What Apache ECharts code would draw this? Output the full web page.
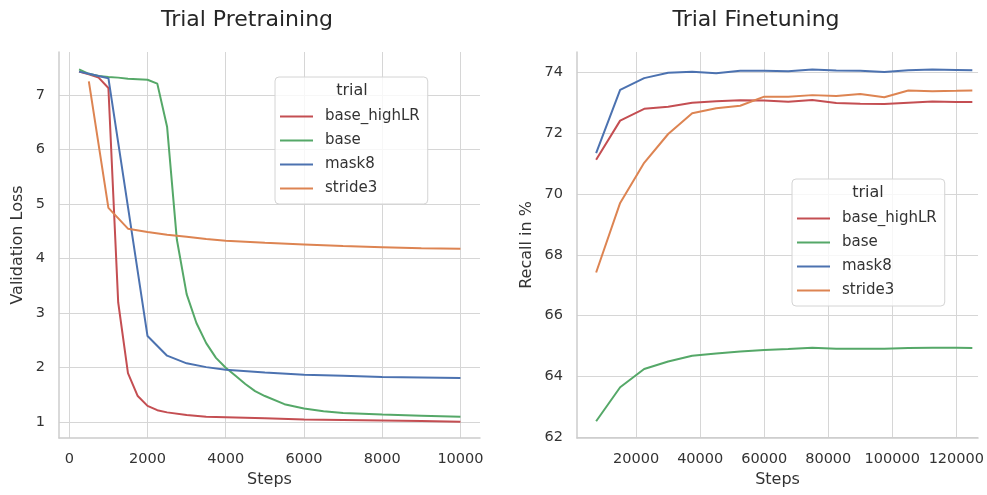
<!DOCTYPE html>
<html>
<head>
<meta charset="utf-8">
<script src="https://cdn.jsdelivr.net/npm/echarts@6/dist/echarts.min.js"></script>
<style>
  html, body { margin: 0; padding: 0; background: #fff; }
  #chart { width: 987px; height: 495px; }
</style>
</head>
<body>
<div id="chart"></div>
<script>
const trialNames = ['base_highLR', 'base', 'mask8', 'stride3'];
const trialColors = ['#c44e52', '#55a868', '#4c72b0', '#dd8452'];

// pretraining: validation loss vs steps
const preHighLRSteps = [250, 500, 750, 1000, 1250, 1500, 1750, 2000, 2250, 2500, 3000, 3500, 4000, 4500, 5000, 6000, 7000, 8000, 9000, 10000];
const preHighLRLoss = [7.43, 7.38, 7.32, 7.13, 3.2, 1.9, 1.48, 1.3, 1.22, 1.18, 1.13, 1.1, 1.09, 1.08, 1.07, 1.05, 1.04, 1.03, 1.02, 1.01];
const preBaseSteps = [250, 500, 750, 1000, 1250, 1500, 1750, 2000, 2250, 2500, 2750, 3000, 3250, 3500, 3750, 4000, 4250, 4500, 4750, 5000, 5500, 6000, 6500, 7000, 8000, 9000, 10000];
const preBaseLoss = [7.47, 7.39, 7.35, 7.33, 7.32, 7.3, 7.29, 7.28, 7.21, 6.42, 4.35, 3.35, 2.82, 2.45, 2.18, 2.0, 1.85, 1.7, 1.57, 1.48, 1.33, 1.25, 1.2, 1.17, 1.14, 1.12, 1.1];
const preMask8Steps = [250, 500, 750, 1000, 1500, 2000, 2500, 3000, 3500, 4000, 5000, 6000, 7000, 8000, 9000, 10000];
const preMask8Loss = [7.43, 7.39, 7.35, 7.31, 4.95, 2.58, 2.22, 2.08, 2.01, 1.96, 1.91, 1.87, 1.85, 1.83, 1.82, 1.81];
const preStride3Steps = [500, 1000, 1500, 2000, 2500, 3000, 3500, 4000, 5000, 6000, 7000, 8000, 9000, 10000];
const preStride3Loss = [7.25, 4.93, 4.55, 4.49, 4.44, 4.4, 4.36, 4.33, 4.29, 4.26, 4.23, 4.21, 4.19, 4.18];

// finetuning: recall vs steps
const fineSteps = [7500, 15000, 22500, 30000, 37500, 45000, 52500, 60000, 67500, 75000, 82500, 90000, 97500, 105000, 112500, 120000, 125000];
const fineHighLR = [71.13, 72.42, 72.81, 72.88, 73.01, 73.06, 73.09, 73.08, 73.04, 73.1, 73.0, 72.98, 72.97, 73.01, 73.05, 73.03, 73.03];
const fineBase = [62.52, 63.64, 64.24, 64.49, 64.68, 64.75, 64.82, 64.87, 64.9, 64.94, 64.91, 64.91, 64.91, 64.93, 64.94, 64.94, 64.93];
const fineMask8 = [71.35, 73.43, 73.82, 74.0, 74.03, 73.98, 74.06, 74.06, 74.05, 74.1, 74.07, 74.06, 74.02, 74.08, 74.1, 74.09, 74.08];
const fineStride3 = [67.42, 69.71, 71.03, 71.98, 72.66, 72.83, 72.91, 73.21, 73.21, 73.26, 73.23, 73.3, 73.19, 73.41, 73.39, 73.4, 73.41];

// tick labels
const preXTicks = [0, 2000, 4000, 6000, 8000, 10000];
const preYTicks = [1, 2, 3, 4, 5, 6, 7];
const fineXTicks = [20000, 40000, 60000, 80000, 100000, 120000];
const fineYTicks = [62, 64, 66, 68, 70, 72, 74];

const FONT = 'DejaVu Sans';
const gridColor = '#d6d6d6';
const spineColor = '#cccccc';
const textColor = '#333333';

function zip(xs, ys) {
  return xs.map((x, i) => [x, ys[i]]);
}

function makeAxis(opt) {
  return Object.assign({
    type: 'value',
    nameLocation: 'middle',
    nameTextStyle: { fontFamily: FONT, fontSize: 16, color: textColor },
    axisLine: { show: true, onZero: false, lineStyle: { color: spineColor, width: 1.5 } },
    axisTick: { show: false, customValues: opt.ticks },
    axisLabel: {
      customValues: opt.ticks,
      formatter: (v) => String(v),
      fontFamily: FONT, fontSize: 14.5, color: textColor, margin: 14
    },
    splitLine: { show: true, lineStyle: { color: gridColor, width: 1 } }
  }, opt.extra);
}

function lineSeries(name, color, data, axisIdx) {
  return {
    name: name,
    type: 'line',
    xAxisIndex: axisIdx,
    yAxisIndex: axisIdx,
    data: data,
    showSymbol: false,
    color: color,
    lineStyle: { width: 2, color: color },
    animation: false
  };
}

function legendAt(left, top) {
  return {
    data: trialNames,
    orient: 'vertical',
    left: left,
    top: top,
    icon: 'rect',
    itemWidth: 33,
    itemHeight: 2,
    itemGap: 9,
    padding: [32, 8, 8, 5],
    backgroundColor: 'rgba(255,255,255,0.8)',
    borderColor: '#d4d4d4',
    borderWidth: 1,
    borderRadius: 4,
    selectedMode: false,
    textStyle: { fontFamily: FONT, fontSize: 15, color: textColor, padding: [0, 0, 0, 7] }
  };
}

const chart = echarts.init(document.getElementById('chart'));

chart.setOption({
  backgroundColor: '#ffffff',
  animation: false,
  grid: [
    { left: 59, top: 52, width: 421, height: 386 },
    { left: 577, top: 52, width: 403, height: 386 }
  ],
  xAxis: [
    makeAxis({ ticks: preXTicks, extra: { gridIndex: 0, min: -263, max: 10500, name: 'Steps', nameGap: 34 } }),
    makeAxis({ ticks: fineXTicks, extra: { gridIndex: 1, min: 1524, max: 126780, name: 'Steps', nameGap: 34 } })
  ],
  yAxis: [
    makeAxis({ ticks: preYTicks, extra: { gridIndex: 0, min: 0.71, max: 7.79, name: 'Validation Loss', nameGap: 33 } }),
    makeAxis({ ticks: fineYTicks, extra: { gridIndex: 1, min: 61.97, max: 74.68, name: 'Recall in %', nameGap: 42 } })
  ],
  legend: [legendAt(275, 77), legendAt(792, 179)],
  graphic: [
    { type: 'text', x: 247, y: 20, style: { text: 'Trial Pretraining', fontFamily: FONT, fontSize: 22, fill: '#262626', align: 'center', verticalAlign: 'middle' } },
    { type: 'text', x: 756, y: 20, style: { text: 'Trial Finetuning', fontFamily: FONT, fontSize: 22, fill: '#262626', align: 'center', verticalAlign: 'middle' } },
    { type: 'text', x: 352, y: 91, z: 100, style: { text: 'trial', fontFamily: FONT, fontSize: 16, fill: textColor, align: 'center', verticalAlign: 'middle' } },
    { type: 'text', x: 868, y: 193, z: 100, style: { text: 'trial', fontFamily: FONT, fontSize: 16, fill: textColor, align: 'center', verticalAlign: 'middle' } }
  ],
  series: [
    lineSeries('base_highLR', trialColors[0], zip(preHighLRSteps, preHighLRLoss), 0),
    lineSeries('base', trialColors[1], zip(preBaseSteps, preBaseLoss), 0),
    lineSeries('mask8', trialColors[2], zip(preMask8Steps, preMask8Loss), 0),
    lineSeries('stride3', trialColors[3], zip(preStride3Steps, preStride3Loss), 0),
    lineSeries('base_highLR', trialColors[0], zip(fineSteps, fineHighLR), 1),
    lineSeries('base', trialColors[1], zip(fineSteps, fineBase), 1),
    lineSeries('mask8', trialColors[2], zip(fineSteps, fineMask8), 1),
    lineSeries('stride3', trialColors[3], zip(fineSteps, fineStride3), 1)
  ]
});

window.addEventListener('resize', () => chart.resize());
</script>
</body>
</html>
